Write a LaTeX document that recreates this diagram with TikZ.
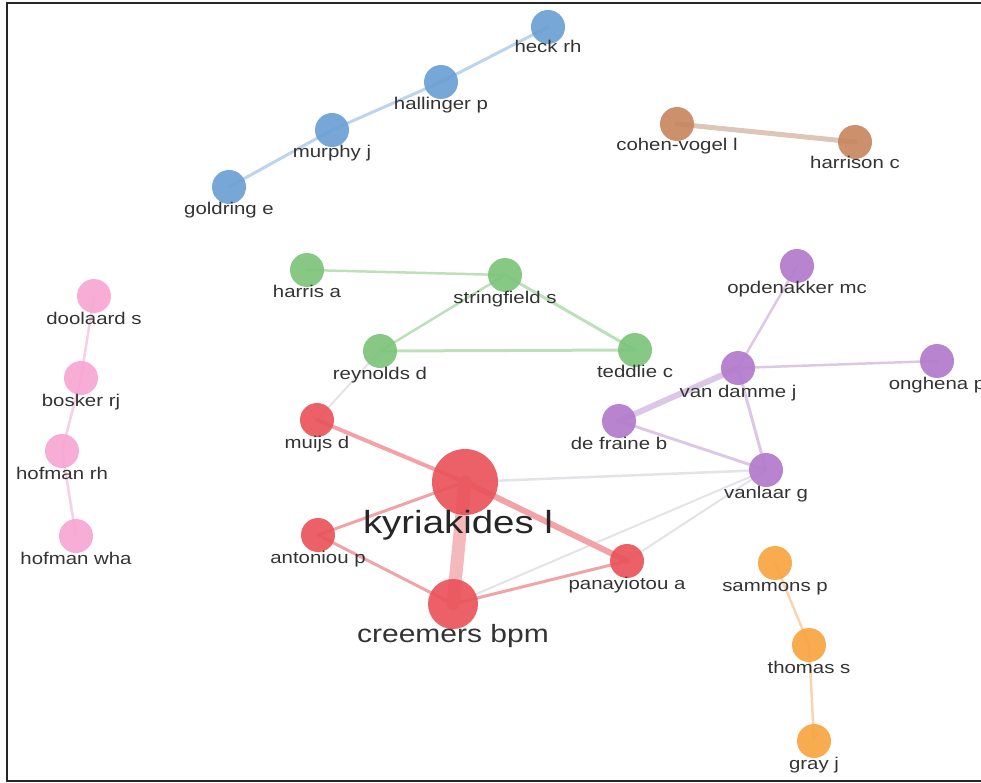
\documentclass[tikz,border=0pt]{standalone}
\usepackage{fontspec}
\setmainfont{Liberation Sans}[FakeStretch=1.2]
\pgfdeclarelayer{bg}
\pgfsetlayers{bg,main}
\definecolor{cred}{HTML}{E9545A}
\definecolor{ered}{HTML}{F2A3A7}
\definecolor{ered2}{HTML}{F4B9BC}
\definecolor{cblue}{HTML}{6B9FD3}
\definecolor{eblue}{HTML}{BCD4EC}
\definecolor{cbrown}{HTML}{C8875F}
\definecolor{ebrown}{HTML}{DDC6B8}
\definecolor{cgreen}{HTML}{7DC47A}
\definecolor{egreen}{HTML}{BCE0B8}
\definecolor{cpurple}{HTML}{B27ACB}
\definecolor{epurple}{HTML}{DCC8E6}
\definecolor{cpink}{HTML}{F6A6D3}
\definecolor{epink}{HTML}{F8D0E4}
\definecolor{corange}{HTML}{F9A540}
\definecolor{eorange}{HTML}{F8D5B0}
\definecolor{egrey}{HTML}{E3E3E8}
\definecolor{labelgray}{HTML}{333333}
\tikzset{
  nd/.style={circle, minimum size=34pt, inner sep=0pt, draw=none, fill opacity=0.92},
  big/.style={nd, minimum size=66pt},
  mid/.style={nd, minimum size=50pt},
  lbl/.style={anchor=base, text=labelgray, inner sep=0pt, font=\fontsize{17}{17}\selectfont},
  edge/.style={line cap=round},
}
\begin{document}
\begin{tikzpicture}[x=1pt,y=-1pt]
\useasboundingbox (0,0) rectangle (981,783);
\clip (0,0) rectangle (981,783);
\draw[line width=2pt, black!85] (981,3) -- (7,3) -- (7,781) -- (981,781);

% blue
\node[nd, fill=cblue] (heck) at (548,27) {};
\node[nd, fill=cblue] (hallinger) at (441,82) {};
\node[nd, fill=cblue] (murphy) at (332,130) {};
\node[nd, fill=cblue] (goldring) at (229,187) {};
% brown
\node[nd, fill=cbrown] (cohen) at (677,124) {};
\node[nd, fill=cbrown] (harrison) at (855,142) {};
% green
\node[nd, fill=cgreen] (harris) at (307,270) {};
\node[nd, fill=cgreen] (stringfield) at (505,275) {};
\node[nd, fill=cgreen] (reynolds) at (380,351) {};
\node[nd, fill=cgreen] (teddlie) at (635,350) {};
% purple
\node[nd, fill=cpurple] (opdenakker) at (797,266) {};
\node[nd, fill=cpurple] (vandamme) at (738,368) {};
\node[nd, fill=cpurple] (onghena) at (937,361) {};
\node[nd, fill=cpurple] (defraine) at (619,421) {};
\node[nd, fill=cpurple] (vanlaar) at (766,470) {};
% red
\node[nd, fill=cred] (muijs) at (317,420) {};
\node[big, fill=cred] (kyriakides) at (465,482) {};
\node[nd, fill=cred] (antoniou) at (318,535) {};
\node[nd, fill=cred] (panayiotou) at (627,561) {};
\node[mid, fill=cred] (creemers) at (453,604) {};
% pink
\node[nd, fill=cpink] (doolaard) at (94,296) {};
\node[nd, fill=cpink] (bosker) at (81,378) {};
\node[nd, fill=cpink] (hofmanrh) at (62,451) {};
\node[nd, fill=cpink] (hofmanwha) at (76,536) {};
% orange
\node[nd, fill=corange] (sammons) at (775,563) {};
\node[nd, fill=corange] (thomas) at (809,645) {};
\node[nd, fill=corange] (gray) at (814,741) {};

% labels
\node[lbl] (lheck) at ([yshift=-26pt]heck.center) {heck rh};
\node[lbl] (lhallinger) at ([yshift=-28pt]hallinger.center) {hallinger p};
\node[lbl] (lmurphy) at ([yshift=-28pt]murphy.center) {murphy j};
\node[lbl] (lgoldring) at ([yshift=-28pt]goldring.center) {goldring e};
\node[lbl] (lcohen) at ([yshift=-27pt]cohen.center) {cohen-vogel l};
\node[lbl] (lharrison) at ([yshift=-27pt]harrison.center) {harrison c};
\node[lbl] (lharris) at ([yshift=-28pt]harris.center) {harris a};
\node[lbl] (lstringfield) at ([yshift=-28pt]stringfield.center) {stringfield s};
\node[lbl] (lreynolds) at ([yshift=-28pt]reynolds.center) {reynolds d};
\node[lbl] (lteddlie) at ([yshift=-27pt]teddlie.center) {teddlie c};
\node[lbl] (lopdenakker) at ([yshift=-28pt]opdenakker.center) {opdenakker mc};
\node[lbl] (lvandamme) at ([yshift=-29pt]vandamme.center) {van damme j};
\node[lbl] (longhena) at ([yshift=-28pt]onghena.center) {onghena p};
\node[lbl] (ldefraine) at ([yshift=-28pt]defraine.center) {de fraine b};
\node[lbl] (lvanlaar) at ([yshift=-28pt]vanlaar.center) {vanlaar g};
\node[lbl] (lmuijs) at ([yshift=-28pt]muijs.center) {muijs d};
\node[lbl, font=\fontsize{32}{32}\selectfont, text=black!85] (lkyriakides) at ([xshift=-7pt,yshift=-51pt]kyriakides.center) {kyriakides l};
\node[lbl] (lantoniou) at ([yshift=-28pt]antoniou.center) {antoniou p};
\node[lbl] (lpanayiotou) at ([yshift=-28pt]panayiotou.center) {panayiotou a};
\node[lbl, font=\fontsize{25}{25}\selectfont, text=black!80] (lcreemers) at ([yshift=-38pt]creemers.center) {creemers bpm};
\node[lbl] (ldoolaard) at ([yshift=-28pt]doolaard.center) {doolaard s};
\node[lbl] (lbosker) at ([yshift=-28pt]bosker.center) {bosker rj};
\node[lbl] (lhofmanrh) at ([yshift=-28pt]hofmanrh.center) {hofman rh};
\node[lbl] (lhofmanwha) at ([yshift=-28pt]hofmanwha.center) {hofman wha};
\node[lbl] (lsammons) at ([yshift=-28pt]sammons.center) {sammons p};
\node[lbl] (lthomas) at ([yshift=-28pt]thomas.center) {thomas s};
\node[lbl] (lgray) at ([yshift=-28pt]gray.center) {gray j};

\begin{pgfonlayer}{bg}
  % blue
  \draw[edge, eblue, line width=3pt] (goldring.center) -- (murphy.center) -- (hallinger.center) -- (heck.center);
  % brown
  \draw[edge, ebrown, line width=5pt] (cohen.center) -- (harrison.center);
  % green
  \draw[edge, egreen, line width=2.5pt] (harris.center) -- (stringfield.center);
  \draw[edge, egreen, line width=2.5pt] (stringfield.center) -- (reynolds.center);
  \draw[edge, egreen, line width=3pt] (stringfield.center) -- (teddlie.center);
  \draw[edge, egreen, line width=3pt] (reynolds.center) -- (teddlie.center);
  % grey links
  \draw[edge, egrey, line width=2pt] (reynolds.center) -- (muijs.center);
  \draw[edge, egrey, line width=2.5pt] (kyriakides.center) -- (vanlaar.center);
  \draw[edge, egrey, line width=2pt] (creemers.center) -- (vanlaar.center);
  \draw[edge, egrey, line width=2pt] (panayiotou.center) -- (vanlaar.center);
  % red
  \draw[edge, ered, line width=4pt] (muijs.center) -- (kyriakides.center);
  \draw[edge, ered, line width=3pt] (antoniou.center) -- (kyriakides.center);
  \draw[edge, ered, line width=3pt] (antoniou.center) -- (creemers.center);
  \draw[edge, ered, line width=6pt] (kyriakides.center) -- (panayiotou.center);
  \draw[edge, ered, line width=3pt] (creemers.center) -- (panayiotou.center);
  \draw[edge, ered2, line width=13pt] (kyriakides.center) -- (creemers.center);
  % purple
  \draw[edge, epurple, line width=2.5pt] (vandamme.center) -- (opdenakker.center);
  \draw[edge, epurple, line width=2.5pt] (vandamme.center) -- (onghena.center);
  \draw[edge, epurple, line width=6pt] (vandamme.center) -- (defraine.center);
  \draw[edge, epurple, line width=3pt] (vandamme.center) -- (vanlaar.center);
  \draw[edge, epurple, line width=3pt] (defraine.center) -- (vanlaar.center);
  % pink
  \draw[edge, epink, line width=2.5pt] (doolaard.center) -- (bosker.center) -- (hofmanrh.center) -- (hofmanwha.center);
  % orange
  \draw[edge, eorange, line width=2.5pt] (sammons.center) -- (thomas.center) -- (gray.center);
\end{pgfonlayer}
\end{tikzpicture}
\end{document}
